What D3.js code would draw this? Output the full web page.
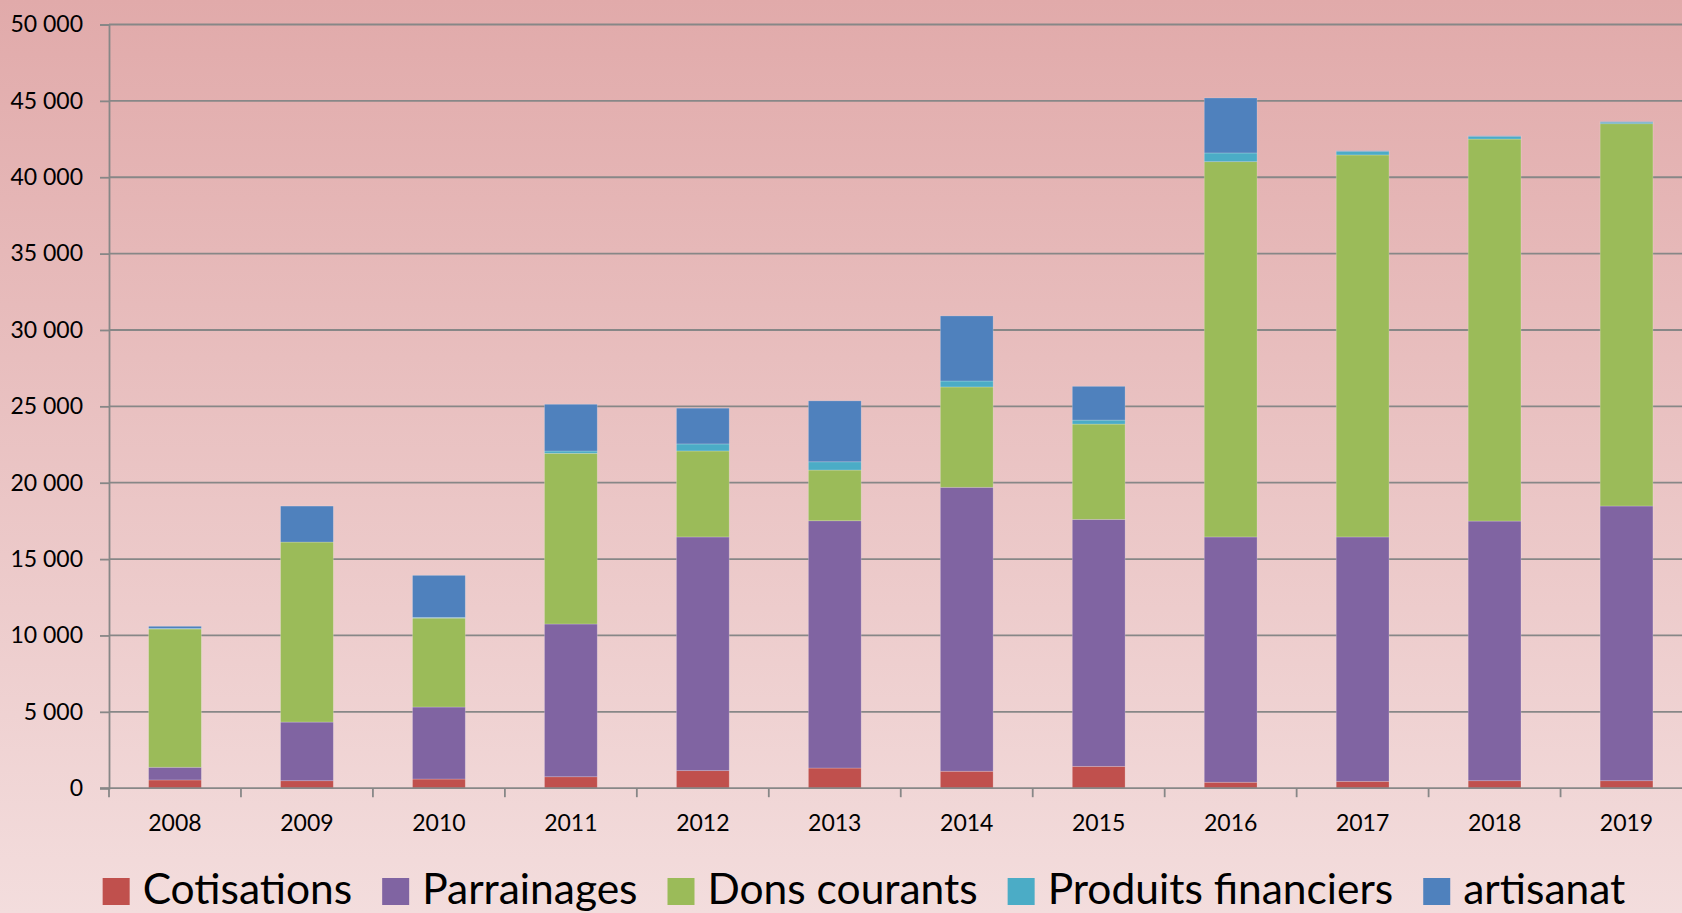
<!DOCTYPE html>
<html>
<head>
<meta charset="utf-8">
<script src="https://cdnjs.cloudflare.com/ajax/libs/d3/7.8.5/d3.min.js"></script>
<style>
  html, body { margin: 0; padding: 0; overflow: hidden; }
  svg { display: block; font-family: Lato, Carlito, Calibri, sans-serif; }
</style>
</head>
<body>
<svg id="chart"></svg>
<script>
(function(){

  // data
  var years = ['2008', '2009', '2010', '2011', '2012', '2013', '2014', '2015', '2016', '2017', '2018', '2019'];
  var cotisations = [540, 490, 600, 750, 1150, 1320, 1110, 1430, 390, 450, 490, 490];
  var parrainages = [830, 3840, 4715, 10000, 15300, 16190, 18590, 16170, 16060, 16000, 17000, 17985];
  var donsCourants = [9055, 11785, 5820, 11175, 5630, 3320, 6570, 6240, 24570, 25010, 25010, 25030];
  var produitsFinanciers = [40, 0, 50, 150, 460, 540, 390, 260, 570, 240, 180, 100];
  var artisanat = [135, 2355, 2750, 3060, 2340, 3990, 4260, 2210, 3600, 30, 30, 30];

  var seriesNames = ['Cotisations', 'Parrainages', 'Dons courants', 'Produits financiers', 'artisanat'];
  var seriesValues = [cotisations, parrainages, donsCourants, produitsFinanciers, artisanat];
  var colors = ['#C0504D', '#8064A2', '#9BBB59', '#4BACC6', '#4F81BD'];
  var yTicks = d3.range(0, 50001, 5000);

  var width = 1682,
      height = 913;

  // plot box
  var left = 109,
      top = 24.5,
      bottom = 788.2,
      step = 131.96;

  var svg = d3.select('#chart')
    .attr('width', width)
    .attr('height', height);

  var grad = svg.append('defs').append('linearGradient')
    .attr('id', 'bg')
    .attr('x1', 0).attr('y1', 0).attr('x2', 0).attr('y2', 1);
  grad.append('stop').attr('offset', '0%').attr('stop-color', '#E1AAAA');
  grad.append('stop').attr('offset', '100%').attr('stop-color', '#F3DDDD');

  svg.append('rect')
    .attr('width', width)
    .attr('height', height)
    .attr('fill', 'url(#bg)');

  var x = d3.scaleBand()
    .domain(years)
    .range([left, left + step * years.length])
    .paddingInner(0.6)
    .paddingOuter(0.3);

  var y = d3.scaleLinear()
    .domain([0, 50000])
    .range([bottom, top]);

  var fr = d3.formatLocale({ decimal: ',', thousands: ' ', grouping: [3], currency: ['', ' €'] });
  var fmt = fr.format(',d');

  // gridlines
  svg.append('g')
    .selectAll('line')
    .data(yTicks.filter(function(d) { return d > 0; }))
    .enter()
    .append('line')
    .attr('x1', left)
    .attr('x2', width)
    .attr('y1', function(d) { return y(d); })
    .attr('y2', function(d) { return y(d); })
    .attr('stroke', '#878787')
    .attr('stroke-width', 1.8);

  // stacked bars
  var table = years.map(function(yr, i) {
    var row = { year: yr };
    seriesNames.forEach(function(name, k) { row[name] = seriesValues[k][i]; });
    return row;
  });
  var stacked = d3.stack().keys(seriesNames)(table);

  svg.append('g')
    .selectAll('g')
    .data(stacked)
    .enter()
    .append('g')
    .attr('fill', function(d, i) { return colors[i]; })
    .selectAll('rect')
    .data(function(d) { return d; })
    .enter()
    .append('rect')
    .attr('x', function(d) { return x(d.data.year); })
    .attr('width', x.bandwidth())
    .attr('y', function(d) { return y(d[1]); })
    .attr('height', function(d) { return Math.max(0, y(d[0]) - y(d[1])); })
    .attr('stroke', 'rgba(255,255,255,0.25)')
    .attr('stroke-width', 0.8);

  // y axis
  var yAxis = svg.append('g')
    .attr('transform', 'translate(' + left + ',0)')
    .call(d3.axisLeft(y).tickValues(yTicks).tickFormat(fmt).tickSize(9).tickPadding(17));
  yAxis.select('.domain').attr('stroke', '#878787').attr('stroke-width', 1.8);
  yAxis.selectAll('.tick line').attr('stroke', '#878787').attr('stroke-width', 1.8);
  yAxis.selectAll('.tick text')
    .attr('fill', '#000')
    .style('font-size', '23px')
    .style('font-family', 'Lato, Carlito, Calibri, sans-serif');

  // x axis, ticks between categories
  var xg = svg.append('g');
  xg.append('line')
    .attr('x1', left - 9)
    .attr('x2', width)
    .attr('y1', bottom)
    .attr('y2', bottom)
    .attr('stroke', '#878787')
    .attr('stroke-width', 1.8);
  xg.selectAll('line.tk')
    .data(years)
    .enter()
    .append('line')
    .attr('class', 'tk')
    .attr('x1', function(d) { return x(d) - x.step() * x.paddingOuter(); })
    .attr('x2', function(d) { return x(d) - x.step() * x.paddingOuter(); })
    .attr('y1', bottom)
    .attr('y2', bottom + 9)
    .attr('stroke', '#878787')
    .attr('stroke-width', 1.8);
  xg.selectAll('text')
    .data(years)
    .enter()
    .append('text')
    .attr('x', function(d) { return x(d) + x.bandwidth() / 2; })
    .attr('y', 831)
    .attr('text-anchor', 'middle')
    .style('font-size', '23px')
    .text(function(d) { return d; });

  // legend
  var legend = svg.append('g');
  var cursor = 0;
  seriesNames.forEach(function(name, i) {
    var item = legend.append('g').attr('transform', 'translate(' + cursor + ',0)');
    item.append('rect')
      .attr('x', 0)
      .attr('y', 878)
      .attr('width', 27)
      .attr('height', 27)
      .attr('fill', colors[i]);
    var t = item.append('text')
      .attr('x', 40)
      .attr('y', 904)
      .style('font-size', '42.5px')
      .text(name);
    cursor += 40 + t.node().getComputedTextLength() + 30;
  });
  var total = cursor - 30;
  legend.attr('transform', 'translate(' + (864 - total / 2) + ',0)');

})();
</script>
</body>
</html>
